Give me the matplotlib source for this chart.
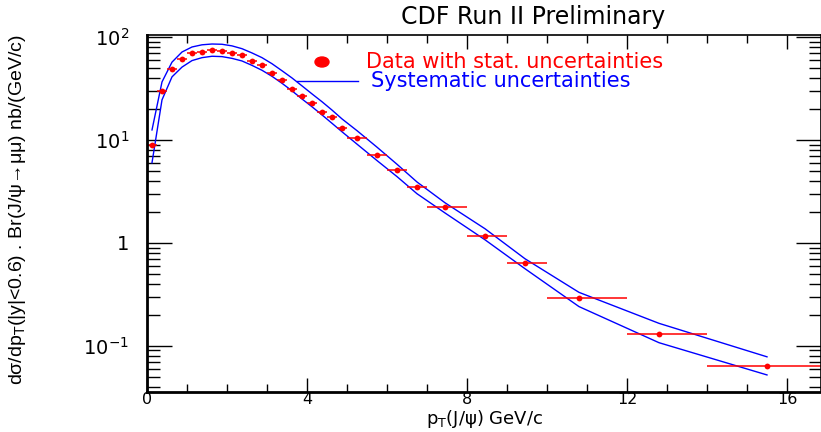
import matplotlib
matplotlib.use("Agg")
import matplotlib.pyplot as plt
import numpy as np
from matplotlib.lines import Line2D
from matplotlib.patches import Ellipse
from matplotlib.ticker import FixedLocator, NullFormatter

plt.rcParams['font.family'] = ['DejaVu Sans']
plt.rcParams['mathtext.fontset'] = 'custom'
plt.rcParams['mathtext.rm'] = 'DejaVu Sans'
plt.rcParams['mathtext.it'] = 'DejaVu Sans'

# ---- data ----
pt_mean = [0.125, 0.375, 0.625, 0.875, 1.125, 1.375, 1.625, 1.875, 2.125, 2.375,
           2.625, 2.875, 3.125, 3.375, 3.625, 3.875, 4.125, 4.375, 4.625, 4.875,
           5.25, 5.75, 6.25, 6.75, 7.45, 8.45, 9.45, 10.8, 12.8, 15.5]
bin_lo = [0.0, 0.25, 0.5, 0.75, 1.0, 1.25, 1.5, 1.75, 2.0, 2.25,
          2.5, 2.75, 3.0, 3.25, 3.5, 3.75, 4.0, 4.25, 4.5, 4.75,
          5.0, 5.5, 6.0, 6.5, 7.0, 8.0, 9.0, 10.0, 12.0, 14.0]
bin_hi = [0.25, 0.5, 0.75, 1.0, 1.25, 1.5, 1.75, 2.0, 2.25, 2.5,
          2.75, 3.0, 3.25, 3.5, 3.75, 4.0, 4.25, 4.5, 4.75, 5.0,
          5.5, 6.0, 6.5, 7.0, 8.0, 9.0, 10.0, 12.0, 14.0, 17.0]
xsec = [8.9, 29.9, 48.9, 61.0, 70.0, 71.5, 75.0, 73.0, 70.5, 67.0,
        58.5, 53.5, 44.8, 38.4, 31.3, 26.7, 22.8, 18.7, 16.7, 13.1,
        10.4, 7.2, 5.1, 3.5, 2.24, 1.17, 0.63, 0.29, 0.131, 0.063]
stat_err = [0.5, 1.2, 1.5, 1.6, 1.7, 1.7, 1.7, 1.6, 1.5, 1.4,
            1.2, 1.1, 0.9, 0.8, 0.6, 0.5, 0.45, 0.37, 0.33, 0.26,
            0.2, 0.14, 0.1, 0.07, 0.045, 0.024, 0.014, 0.007, 0.004, 0.003]
syst_hi = [12.5, 36.6, 57.0, 71.5, 80.0, 84.0, 85.5, 85.0, 82.0, 77.0,
           70.0, 63.0, 55.0, 47.0, 40.0, 33.5, 28.0, 23.5, 19.5, 16.0,
           12.3, 8.5, 5.8, 3.9, 2.45, 1.37, 0.70, 0.33, 0.165, 0.078]
syst_lo = [6.0, 24.5, 41.0, 51.0, 59.0, 63.0, 65.0, 64.5, 62.0, 58.5,
           53.0, 47.5, 41.5, 35.5, 30.0, 25.0, 21.0, 17.5, 14.5, 12.0,
           9.1, 6.3, 4.4, 3.0, 1.95, 1.07, 0.56, 0.24, 0.107, 0.052]

title = "CDF Run II Preliminary"
xlabel = r"p$_{\mathrm{T}}$(J/ψ) GeV/c"
ylabel = r"dσ/dp$_{\mathrm{T}}$(|y|<0.6) . Br(J/ψ→μμ) nb/(GeV/c)"
xticks = [0, 4, 8, 12, 16]
xtick_labels = ["0", "4", "8", "12", "16"]
yticks = [0.1, 1, 10, 100]
ytick_labels = [r"10$^{-1}$", "1", r"10$^{1}$", r"10$^{2}$"]
leg_data = "Data with stat. uncertainties"
leg_syst = "Systematic uncertainties"

RED = "#ff0000"
BLUE = "#0000ff"

fig = plt.figure(figsize=(8.21, 4.32), dpi=100)
ax = fig.add_axes([147/821, 40/432, 674/821, 357/432])

x = np.array(pt_mean)
y = np.array(xsec)
xerr = np.vstack([x - np.array(bin_lo), np.array(bin_hi) - x])

ax.plot(x, syst_hi, color=BLUE, lw=1.0)
ax.plot(x, syst_lo, color=BLUE, lw=1.0)
ax.errorbar(x, y, xerr=xerr, yerr=stat_err, fmt='o', color=RED, ms=4.2,
            elinewidth=1.1, capsize=0, markeredgewidth=0)

ax.set_yscale('log')
ax.set_xlim(0, 16.85)
ax.set_ylim(0.0355, 104.6)

ax.xaxis.set_major_locator(FixedLocator(xticks))
ax.set_xticklabels(xtick_labels)
ax.xaxis.set_minor_locator(FixedLocator(np.arange(0, 17, 1)))
ax.set_yticks(yticks)
ax.set_yticklabels(ytick_labels)
minor_y = [m * 10.0**e for e in range(-2, 3) for m in range(2, 10)]
ax.yaxis.set_minor_locator(FixedLocator(minor_y))
ax.yaxis.set_minor_formatter(NullFormatter())

ax.tick_params(axis='both', which='both', direction='in', top=True, right=True,
               colors='black')
ax.tick_params(axis='y', which='major', length=18, width=1.0, pad=13, labelsize=14)
ax.tick_params(axis='y', which='minor', length=9, width=1.0)
ax.tick_params(axis='x', which='major', length=10, width=1.0, pad=0, labelsize=11.5)
ax.tick_params(axis='x', which='minor', length=6, width=1.0)

ax.spines['left'].set_linewidth(2.0)
ax.spines['bottom'].set_linewidth(2.0)
ax.spines['top'].set_linewidth(1.2)
ax.spines['right'].set_linewidth(1.2)

fig.text(533/821, 1 - 17/432, title, ha='center', va='center', fontsize=17)
fig.text(18/821, 1 - 210/432, ylabel, ha='center', va='center', rotation=90,
         fontsize=14, family=['Liberation Sans', 'DejaVu Sans'])

# legend
fig.patches.append(Ellipse((322/821, 1 - 62/432), 14/821, 10/432,
                           transform=fig.transFigure, color=RED, figure=fig))
fig.text(366/821, 1 - 62/432, leg_data, ha='left', va='center', fontsize=15, color=RED)
fig.lines.append(Line2D([297/821, 358/821], [1 - 81/432, 1 - 81/432],
                        transform=fig.transFigure, color=BLUE, lw=1.0, figure=fig))
fig.text(371/821, 1 - 81/432, leg_syst, ha='left', va='center', fontsize=15, color=BLUE)

# x label placed just below the tick labels, shrunk if needed to stay inside
fig.canvas.draw()
r = fig.canvas.get_renderer()
tick_bottom = min(t.get_window_extent(r).y0 for t in ax.get_xticklabels() if t.get_text())
fs = 13.0
xl = fig.text(485/821, (tick_bottom - 1.0) / fig.bbox.height, xlabel,
              ha='center', va='top', fontsize=fs)
while xl.get_window_extent(r).y0 < 1.0 and fs > 9:
    fs -= 0.25
    xl.set_fontsize(fs)

fig.savefig("out.png", dpi=100)
